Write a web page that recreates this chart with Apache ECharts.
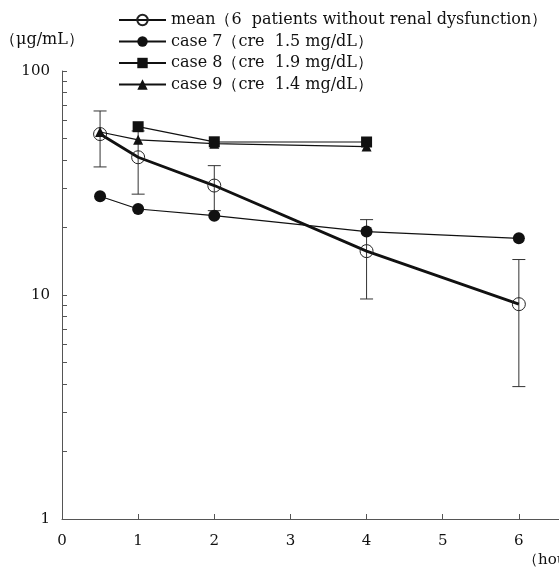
<!DOCTYPE html>
<html>
<head>
<meta charset="utf-8">
<script src="https://cdn.jsdelivr.net/npm/echarts@6/dist/echarts.min.js"></script>
<style>
  html, body { margin: 0; padding: 0; background: #fff; }
  #main { width: 559px; height: 568px; }
</style>
</head>
<body>
<div id="main"></div>
<script>
// time after dosing (hours)
var meanHours = [0.5, 1, 2, 4, 6];
var meanValues = [52.3, 41.2, 30.8, 15.7, 9.1];
var meanLow = [37.3, 28.2, 23.8, 9.6, 3.9];
var meanHigh = [66.3, 54.0, 37.8, 21.7, 14.4];

var case7Hours = [0.5, 1, 2, 4, 6];
var case7Values = [27.6, 24.2, 22.6, 19.2, 17.9];

var case8Hours = [1, 2, 4];
var case8Values = [56.4, 48.3, 48.2];

var case9Hours = [0.5, 1, 2, 4];
var case9Values = [53.4, 49.3, 47.4, 46.0];

var yLabels = [1, 10, 100];
var yTicks = [2, 3, 4, 5, 6, 7, 8, 9, 10, 20, 30, 40, 50, 60, 70, 80, 90, 100];

var names = [
  'mean（6  patients without renal dysfunction）',
  'case 7（cre  1.5 mg/dL）',
  'case 8（cre  1.9 mg/dL）',
  'case 9（cre  1.4 mg/dL）'
];

function pairs(xs, ys) {
  return xs.map(function (x, i) { return [x, ys[i]]; });
}

var font = 'DejaVu Serif';
var ink = '#111';

let myChart = echarts.init(document.getElementById('main'));

myChart.setOption({
  animation: false,
  textStyle: { fontFamily: font, color: ink },
  grid: { left: 62, top: 71, bottom: 49, right: -36, outerBoundsMode: 'none', containLabel: false },
  legend: {
    orient: 'vertical',
    left: 118,
    top: 12,
    padding: 0,
    itemWidth: 47,
    itemHeight: 13,
    itemGap: 5.5,
    data: names,
    textStyle: { fontFamily: font, fontSize: 16, color: ink }
  },
  xAxis: {
    type: 'value',
    min: 0,
    max: 7,
    interval: 1,
    splitLine: { show: false },
    axisLine: { lineStyle: { color: '#555', width: 1 } },
    axisTick: { inside: true, length: 5, lineStyle: { color: '#555' } },
    axisLabel: { fontFamily: font, fontSize: 15, color: ink, margin: 15 }
  },
  yAxis: {
    type: 'log',
    logBase: 10,
    min: 1,
    max: 100,
    splitLine: { show: false },
    axisLine: { show: true, lineStyle: { color: '#555', width: 1 } },
    axisTick: { inside: true, length: 5, customValues: yTicks, lineStyle: { color: '#555' } },
    axisLabel: { fontFamily: font, fontSize: 15, color: ink, margin: 12, customValues: yLabels }
  },
  graphic: [
    { type: 'text', left: 0, top: 32, style: { text: '（μg/mL）', font: '16px "DejaVu Serif"', fill: ink } },
    { type: 'text', left: 523, top: 553, style: { text: '（hours）', font: '15px "DejaVu Serif"', fill: ink } }
  ],
  series: [
    {
      type: 'custom',
      name: 'sd',
      z: 1,
      data: meanHours.map(function (x, i) { return [x, meanLow[i], meanHigh[i]]; }),
      renderItem: function (params, api) {
        var lo = api.coord([api.value(0), api.value(1)]);
        var hi = api.coord([api.value(0), api.value(2)]);
        var w = 6.5;
        var st = { stroke: '#333', lineWidth: 1 };
        return {
          type: 'group',
          children: [
            { type: 'line', shape: { x1: lo[0], y1: lo[1], x2: hi[0], y2: hi[1] }, style: st },
            { type: 'line', shape: { x1: lo[0] - w, y1: lo[1], x2: lo[0] + w, y2: lo[1] }, style: st },
            { type: 'line', shape: { x1: hi[0] - w, y1: hi[1], x2: hi[0] + w, y2: hi[1] }, style: st }
          ]
        };
      }
    },
    {
      type: 'line',
      name: names[0],
      z: 3,
      data: pairs(meanHours, meanValues),
      symbol: 'circle',
      symbolSize: 13,
      lineStyle: { color: ink, width: 2.8 },
      itemStyle: { color: 'rgba(255,255,255,0)', borderColor: '#222', borderWidth: 1 }
    },
    {
      type: 'line',
      name: names[1],
      z: 4,
      data: pairs(case7Hours, case7Values),
      symbol: 'circle',
      symbolSize: 12,
      lineStyle: { color: ink, width: 1.2 },
      itemStyle: { color: ink }
    },
    {
      type: 'line',
      name: names[2],
      z: 4,
      data: pairs(case8Hours, case8Values),
      symbol: 'rect',
      symbolSize: 11,
      lineStyle: { color: ink, width: 1.2 },
      itemStyle: { color: ink }
    },
    {
      type: 'line',
      name: names[3],
      z: 4,
      data: pairs(case9Hours, case9Values),
      symbol: 'triangle',
      symbolSize: 10,
      lineStyle: { color: ink, width: 1.2 },
      itemStyle: { color: ink }
    }
  ]
});
</script>
</body>
</html>
